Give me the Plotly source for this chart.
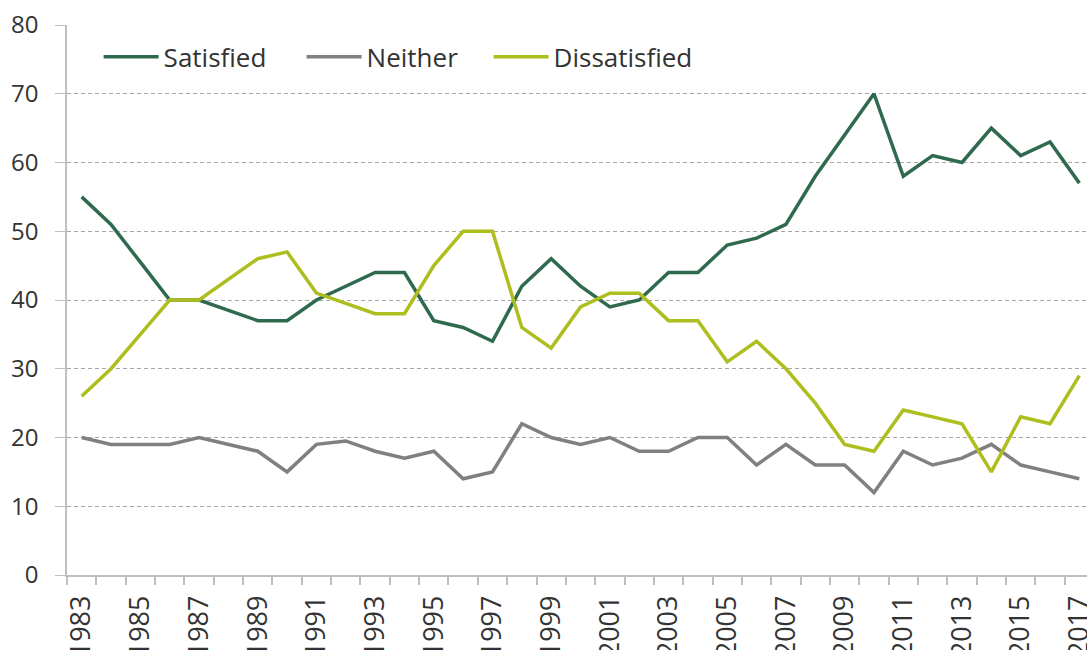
import plotly.graph_objects as go

years = list(range(1983, 2018))
satisfied = [55, 51, 45.5, 40, 40, 38.5, 37, 37, 40, 42, 44, 44, 37, 36, 34, 42, 46, 42, 39, 40,
             44, 44, 48, 49, 51, 58, 64, 70, 58, 61, 60, 65, 61, 63, 57]
neither = [20, 19, 19, 19, 20, 19, 18, 15, 19, 19.5, 18, 17, 18, 14, 15, 22, 20, 19, 20, 18,
           18, 20, 20, 16, 19, 16, 16, 12, 18, 16, 17, 19, 16, 15, 14]
dissatisfied = [26, 30, 35, 40, 40, 43, 46, 47, 41, 39.5, 38, 38, 45, 50, 50, 36, 33, 39, 41, 41,
                37, 37, 31, 34, 30, 25, 19, 18, 24, 23, 22, 15, 23, 22, 29]
series_names = ["Satisfied", "Neither", "Dissatisfied"]
colors = ["#2F6A4F", "#808080", "#AEBE1F"]
y_ticks = list(range(0, 90, 10))

legend_ids = ["legend", "legend2", "legend3"]
legend_x = [0.031, 0.230, 0.4133]

fig = go.Figure()
for name, vals, col, lg in zip(series_names, [satisfied, neither, dissatisfied], colors, legend_ids):
    fig.add_trace(go.Scatter(x=years, y=vals, mode="lines", name=name, legend=lg,
                             line=dict(color=col, width=3.5)))

font_family = "Open Sans"
legend_common = dict(orientation="h", y=0.942, xanchor="left", yanchor="middle",
                     font=dict(size=26, color="#333333"), itemwidth=55,
                     bgcolor="rgba(0,0,0,0)")
fig.update_layout(
    width=1087, height=650,
    margin=dict(l=67, r=0, t=25, b=75),
    paper_bgcolor="white", plot_bgcolor="white",
    font=dict(family=font_family, size=24, color="#333333"),
    showlegend=True,
    legend=dict(x=legend_x[0], **legend_common),
    legend2=dict(x=legend_x[1], **legend_common),
    legend3=dict(x=legend_x[2], **legend_common),
)
fig.update_xaxes(
    range=[1982.5, 2017.26], automargin=False,
    tickmode="linear", tick0=1983, dtick=2,
    tickangle=-90, ticklabeloverflow="allow",
    ticks="outside", ticklen=8, tickcolor="rgba(0,0,0,0)",
    showgrid=False, zeroline=False,
    showline=True, linecolor="#BFBFBF", linewidth=1.5,
    tickfont=dict(size=27, color="#333333"),
    minor=dict(tickmode="linear", tick0=1982.5, dtick=1, ticks="outside",
               ticklen=8, tickcolor="#BFBFBF", tickwidth=1.5, showgrid=False),
)
fig.update_yaxes(
    range=[0, 80], tickvals=y_ticks, automargin=False,
    ticks="outside", ticklen=10, tickcolor="#BFBFBF", tickwidth=1,
    ticklabelstandoff=12,
    showgrid=True, gridcolor="#A6A6A6", gridwidth=1, griddash="4px,3px",
    zeroline=False,
    showline=True, linecolor="#BFBFBF", linewidth=1.5,
    tickfont=dict(size=24, color="#333333"),
)
fig.write_html("out.html", config={"displayModeBar": False},
               post_script="document.body.style.margin='0';document.body.style.overflow='hidden';")
